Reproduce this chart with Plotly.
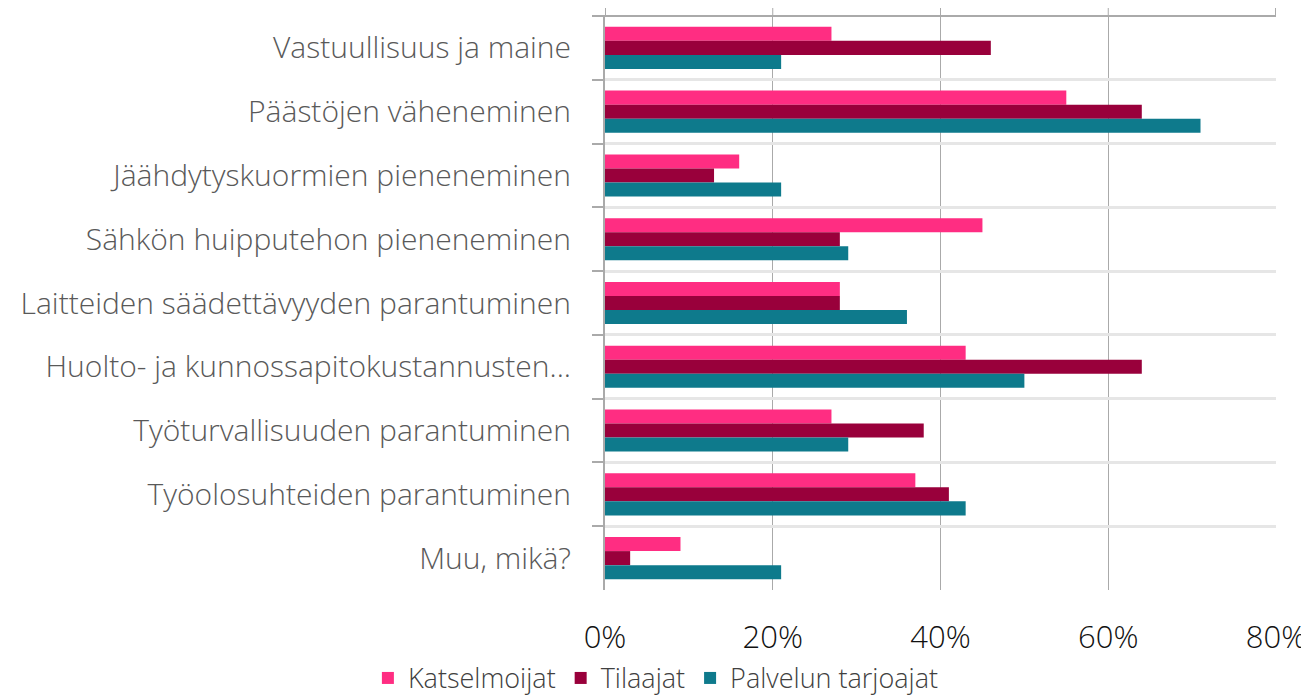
import plotly.graph_objects as go

categories = [
    "Vastuullisuus ja maine",
    "Päästöjen väheneminen",
    "Jäähdytyskuormien pieneneminen",
    "Sähkön huipputehon pieneneminen",
    "Laitteiden säädettävyyden parantuminen",
    "Huolto- ja kunnossapitokustannusten...",
    "Työturvallisuuden parantuminen",
    "Työolosuhteiden parantuminen",
    "Muu, mikä?",
]
series_names = ["Katselmoijat", "Tilaajat", "Palvelun tarjoajat"]
katselmoijat = [0.27, 0.55, 0.16, 0.45, 0.28, 0.43, 0.27, 0.37, 0.09]
tilaajat = [0.46, 0.64, 0.13, 0.28, 0.28, 0.64, 0.38, 0.41, 0.03]
palvelun_tarjoajat = [0.21, 0.71, 0.21, 0.29, 0.36, 0.50, 0.29, 0.43, 0.21]
x_ticks = [0, 0.2, 0.4, 0.6, 0.8]
colors = ["#FF2D82", "#99003B", "#0E7A8C"]

fig = go.Figure()
for name, vals, col in zip(series_names, [katselmoijat, tilaajat, palvelun_tarjoajat], colors):
    fig.add_trace(go.Bar(
        y=categories, x=vals, name=name, orientation="h",
        marker=dict(color=col, line=dict(width=0)),
    ))

FONT = "Open Sans"
fig.update_layout(
    width=1301, height=689,
    margin=dict(l=597, r=33, t=8, b=107, autoexpand=False),
    paper_bgcolor="white", plot_bgcolor="white",
    barmode="group", bargap=0.34, bargroupgap=0,
    font=dict(family=FONT, size=30, color="#595959", weight=300),
    showlegend=True,
    legend=dict(
        orientation="h", xref="container", yref="paper",
        x=0.498, xanchor="center", y=-0.154, yanchor="middle",
        font=dict(family=FONT, size=27, color="#404040", weight=300),
        itemwidth=30, traceorder="normal",
    ),
    xaxis=dict(
        range=[0, 0.8], tickvals=x_ticks, tickformat=".0%",
        showgrid=True, gridcolor="#AAAAAA", gridwidth=1,
        zeroline=False, showline=False, ticks="", automargin=False,
        ticklabelstandoff=26,
        tickfont=dict(family=FONT, size=31, color="#111111", weight=300),
    ),
    yaxis=dict(
        type="category", autorange="reversed", tickson="boundaries",
        showgrid=True, gridcolor="#E6E6E6", gridwidth=3,
        ticks="outside", ticklen=11, tickcolor="#AAAAAA", tickwidth=2,
        showline=True, linecolor="#AAAAAA", linewidth=2, automargin=False,
        ticklabelstandoff=26,
        tickfont=dict(family=FONT, size=30, color="#595959", weight=300),
    ),
)

# top border line and the short gridline extensions above the plot
fig.add_shape(type="line", xref="x domain", yref="y domain",
              x0=-0.018, x1=1, y0=1, y1=1, line=dict(color="#AAAAAA", width=2))
for t in x_ticks:
    fig.add_shape(type="line", xref="x", yref="y domain",
                  x0=t, x1=t, y0=1, y1=1.019,
                  line=dict(color="#AAAAAA", width=2 if t in (0, 0.8) else 1))

fig.write_html("out.html")
